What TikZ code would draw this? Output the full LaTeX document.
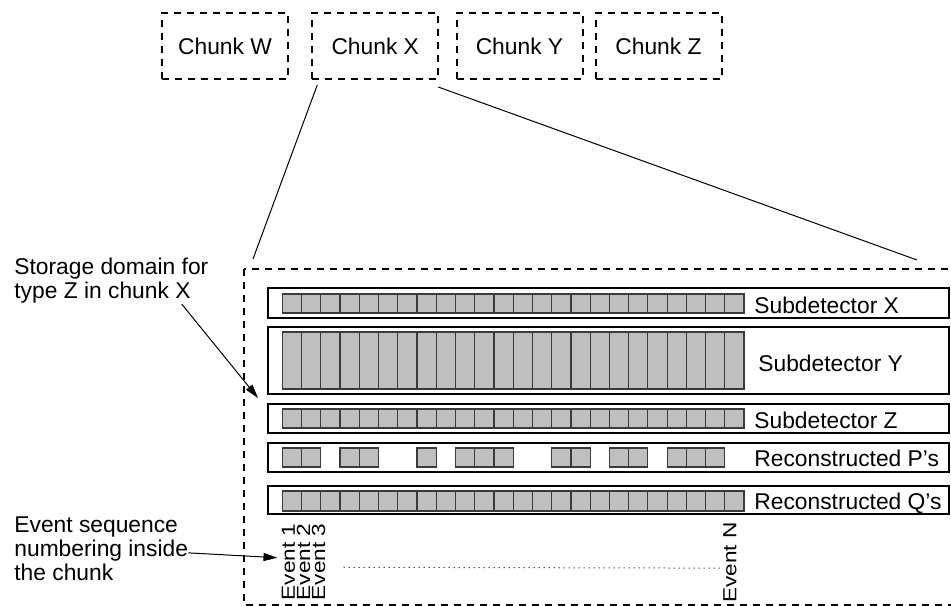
\documentclass[tikz,border=0pt]{standalone}
\usepackage{fontspec}
\setmainfont{Liberation Sans}
\usepackage{graphicx}
\usepackage{tikz}
\usetikzlibrary{calc,arrows.meta}
\definecolor{cell-fill}{HTML}{BFBFBF}
\definecolor{cell-edge}{HTML}{3A3A3A}
\newcommand{\evtext}[1]{\scalebox{1.19}[1]{#1}}

\begin{document}
\begin{tikzpicture}[x=0.5pt, y=-0.5pt,
    every node/.style={font=\fontsize{11.4}{12}\selectfont, inner sep=0pt},
    dashbox/.style={draw, line width=1pt, dash pattern=on 3.5pt off 3pt},
    chunkbox/.style={dashbox, minimum width=63pt, minimum height=33pt},
    rowbox/.style={draw, line width=0.6pt},
    cellbox/.style={fill=cell-fill, draw=cell-edge, line width=0.6pt},
    rowlab/.style={anchor=base west},
    evlab/.style={rotate=90, anchor=east, font=\fontsize{9.5}{11}\selectfont},
    note/.style={align=left, anchor=north west},
    pointer/.style={line width=0.5pt, -{Triangle[length=7pt,width=4pt]}}]

    \useasboundingbox (0,0) rectangle (951,605);

    % chunks on top
    \node[chunkbox] (cw) at (225,46) {Chunk W};
    \node[chunkbox] (cx) at (375.25,46) {Chunk X};
    \node[chunkbox] (cy) at (519.5,46) {Chunk Y};
    \node[chunkbox] (cz) at (658.5,46) {Chunk Z};

    % zoom into chunk X
    \draw[dashbox] (244,269) rectangle (962,605);
    \coordinate (dl) at (253,259);
    \coordinate (dr) at (917,260);
    \draw[line width=0.5pt] ([shift={(3pt,-2.5pt)}]cx.south west) -- (dl);
    \draw[line width=0.5pt] ([shift={(-0.5pt,-3.5pt)}]cx.south east) -- (dr);

    % storage rows
    \foreach \top/\bot in {288/318, 327/394, 404/433, 443/472, 486/514}
        \draw[rowbox] (268,\top) rectangle (949,\bot);
    \foreach \top/\bot in {294/313, 332/389, 409/428, 491/511}
        \foreach \i in {0,...,23}
            \draw[cellbox] ({282.3+19.24*\i},\top) rectangle ({301.54+19.24*\i},\bot);
    \foreach \i in {0,1,3,4,7,9,10,11,14,15,17,18,20,21,22}
        \draw[cellbox] ({282.3+19.24*\i},448) rectangle ({301.54+19.24*\i},467);

    \node[rowlab] (sx) at (754,313.5) {Subdetector X};
    \node[rowlab] (sy) at (758,371.5) {Subdetector Y};
    \node[rowlab] (sz) at (754,428) {Subdetector Z};
    \node[rowlab] (rp) at (754,466.5) {Reconstructed P’s};
    \node[rowlab] (rq) at (754,509.5) {Reconstructed Q’s};

    % event numbering
    \node[evlab] (e1) at (288.5,523) {\evtext{Event 1}};
    \node[evlab] (e2) at (303.5,523) {\evtext{Event 2}};
    \node[evlab] (e3) at (318.5,523) {\evtext{Event 3}};
    \node[evlab] (en) at (730,522) {\evtext{Event N}};
    \draw[dotted, line width=0.5pt] ([xshift=9pt,yshift=-2.75pt]e3.south) -- ([xshift=-1.5pt,yshift=-2.75pt]en.north);

    % notes on the left
    \node[note] (stor) at (14,258) {Storage domain for\\type Z in chunk X};
    \coordinate (zdom) at (258,398);
    \draw[pointer] ([xshift=-13.5pt]stor.south east) -- (zdom);

    \node[note] (evseq) at (14,516.5) {Event sequence\\numbering inside\\the chunk};
    \draw[pointer] ([yshift=-2pt]evseq.east) -- ([shift={(-2pt,2pt)}]e1.north);
\end{tikzpicture}
\end{document}
